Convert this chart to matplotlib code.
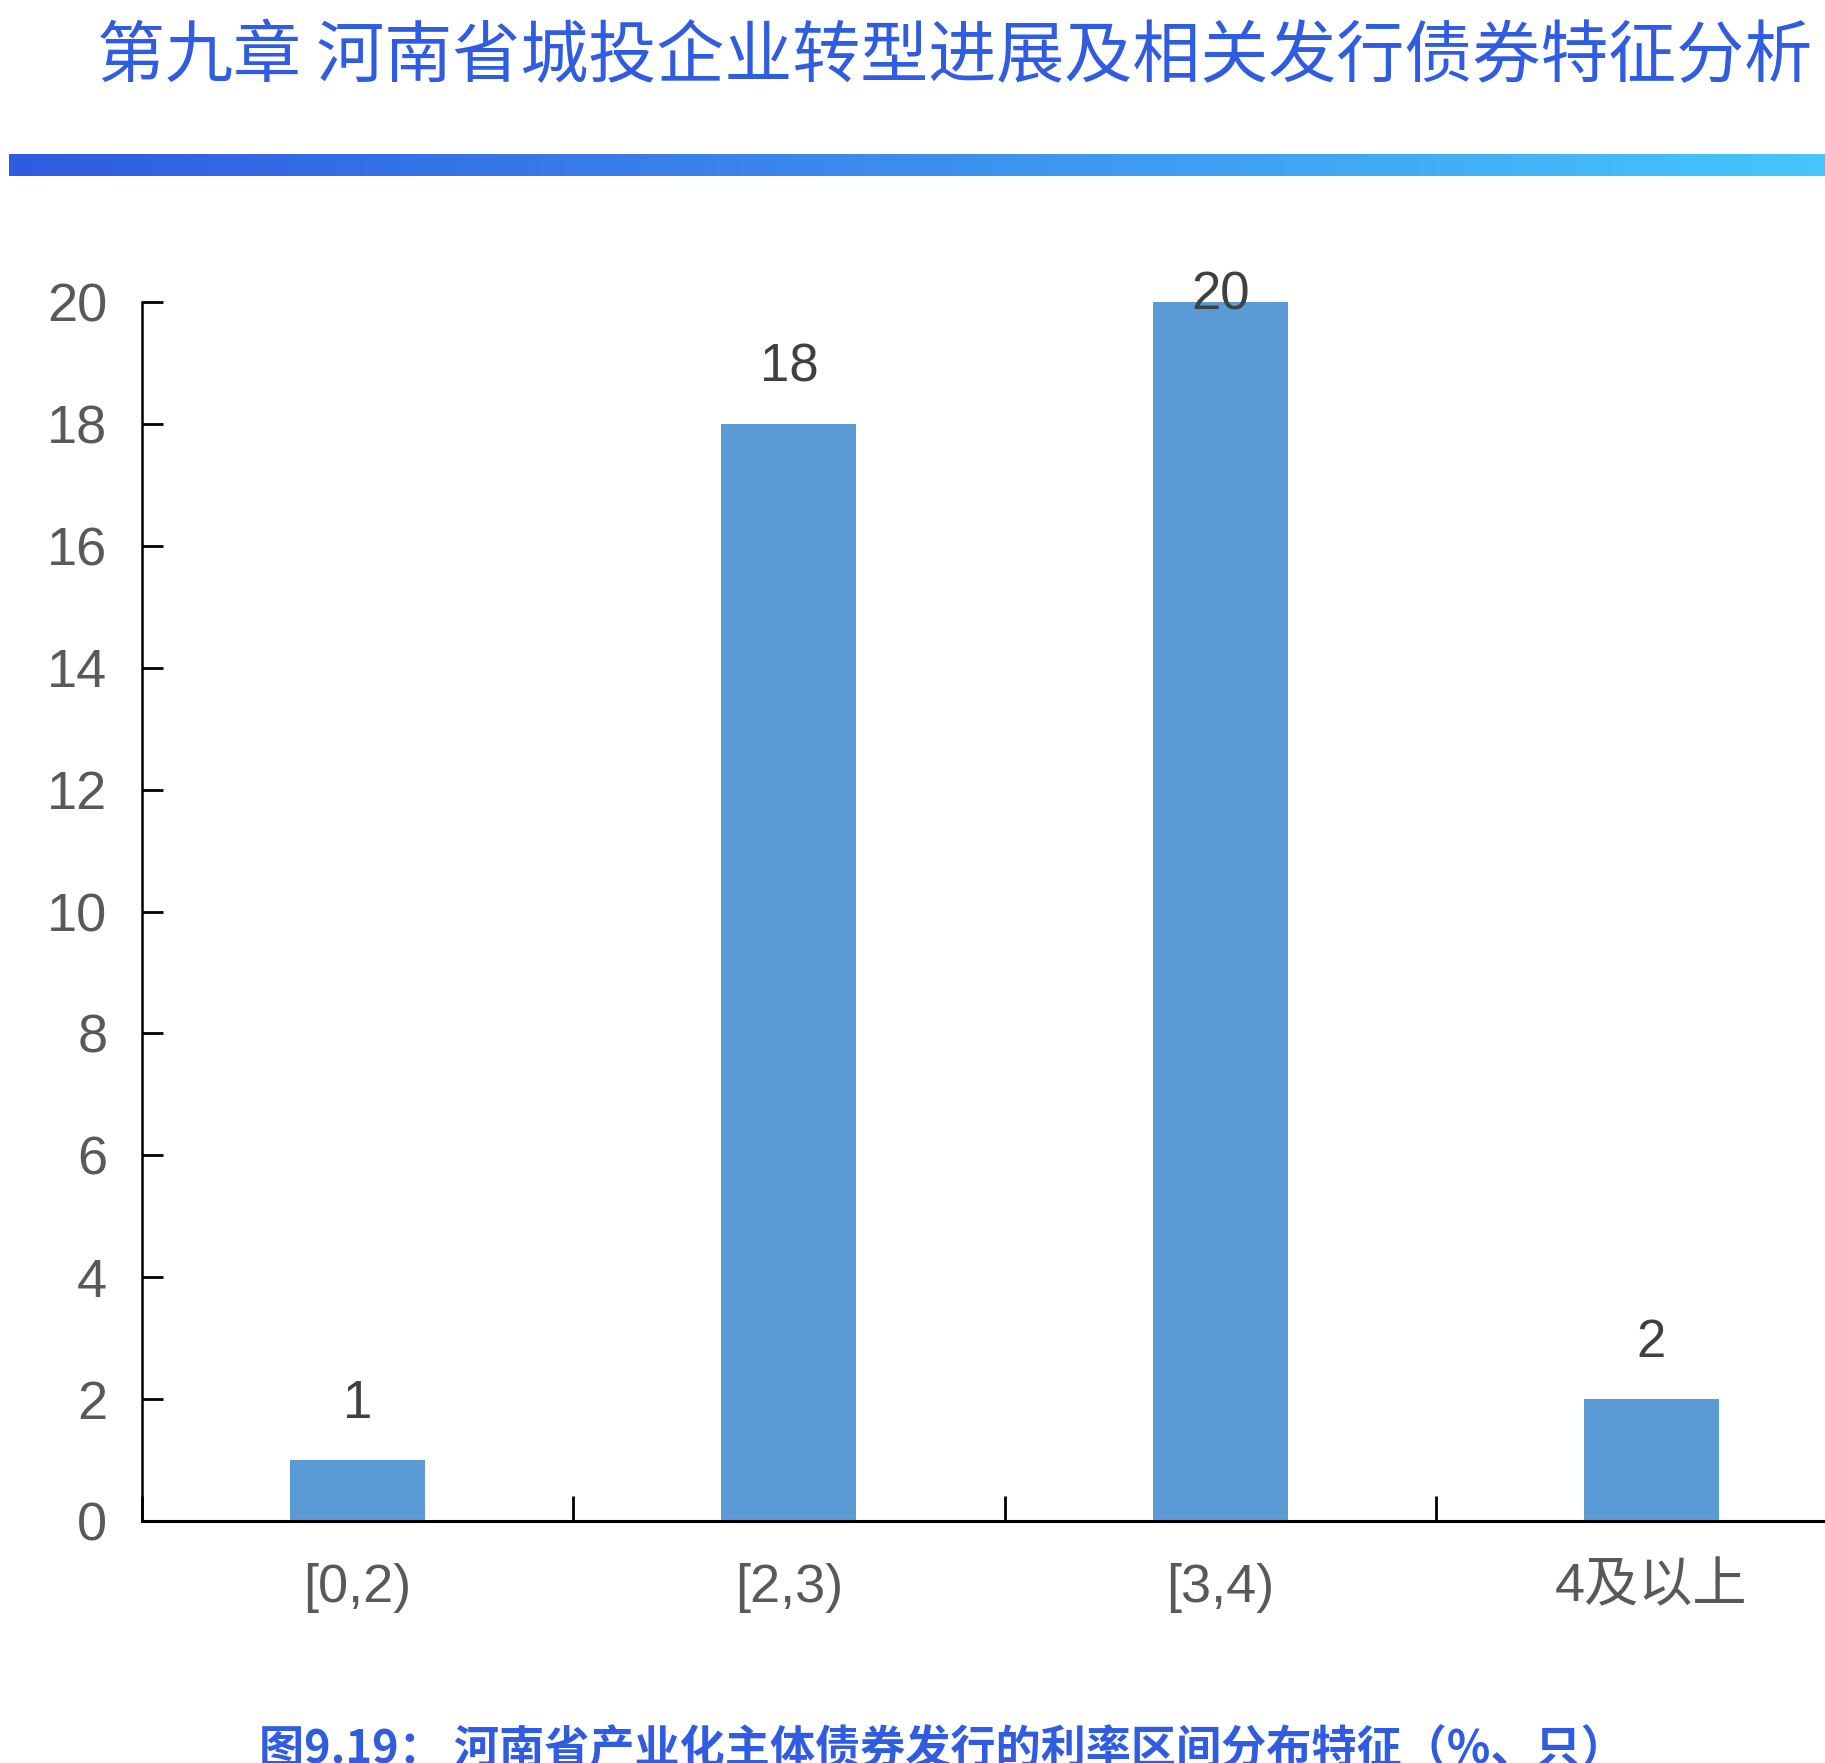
import matplotlib
matplotlib.use("Agg")
import matplotlib.pyplot as plt
import numpy as np
from matplotlib.colors import LinearSegmentedColormap

plt.rcParams['font.family'] = ['Liberation Sans', 'Noto Sans CJK SC', 'DejaVu Sans']

# данные
categories = ['[0,2)', '[2,3)', '[3,4)', '4及以上']
counts = [1, 18, 20, 2]
y_ticks = [0, 2, 4, 6, 8, 10, 12, 14, 16, 18, 20]

title = '第九章 河南省城投企业转型进展及相关发行债券特征分析'
caption = '图9.19： 河南省产业化主体债券发行的利率区间分布特征（%、只）'

W, H = 1825, 1763
fig = plt.figure(figsize=(W / 100, H / 100), dpi=100)
fig.patch.set_facecolor('white')

# заголовок
fig.text(97 / W, 1 - 58 / H, title, fontsize=49, color='#2f5ce0',
         family=['Noto Sans CJK SC'], ha='left', va='center')

# градиентная полоса
gax = fig.add_axes([9 / W, 1 - 176 / H, (W - 9) / W, 22 / H])
cmap = LinearSegmentedColormap.from_list('bar', ['#2f5be0', '#3d8eee', '#46c6fb'])
gax.imshow(np.linspace(0, 1, 256)[None, :], aspect='auto', cmap=cmap)
gax.set_axis_off()

# основной график
x0, x_end = 142, 1867
y_top, y_bot = 302, 1521
ax = fig.add_axes([x0 / W, 1 - y_bot / H, (x_end - x0) / W, (y_bot - y_top) / H])
x = np.arange(len(categories))
ax.bar(x, counts, width=0.313, color='#5b9bd5', zorder=2)
ax.set_xlim(-0.5, len(categories) - 0.5)
ax.set_ylim(0, 20)

for s in ['top', 'right']:
    ax.spines[s].set_visible(False)
ax.spines['left'].set_linewidth(1.8)
ax.spines['bottom'].set_linewidth(2.2)
ax.spines['bottom'].set_zorder(3)

ax.set_yticks(y_ticks)
ax.set_yticklabels([str(v) for v in y_ticks])
ax.tick_params(axis='y', direction='in', length=15, width=2, labelsize=39,
               labelcolor='#595959', pad=25)

ax.set_xticks(np.arange(len(categories) + 1) - 0.5)
ax.set_xticklabels([])
ax.tick_params(axis='x', which='major', direction='in', length=18, width=2)
ax.set_xticks(x, minor=True)
ax.set_xticklabels(categories, minor=True)
ax.tick_params(axis='x', which='minor', length=0, labelsize=39,
               labelcolor='#595959', pad=30)

# подписи значений
for xi, v in zip(x, counts):
    ax.text(xi, min(v + 0.92, 20.1), str(v), ha='center', va='center',
            fontsize=38, color='#404040', zorder=4)

# подпись рисунка
fig.text(942 / W, 1 - 1750 / H, caption, fontsize=32.5, color='#2f5ce0',
         family=['Noto Sans CJK SC'], weight='bold', ha='center', va='center')

fig.savefig('out.png', dpi=100, facecolor='white')
